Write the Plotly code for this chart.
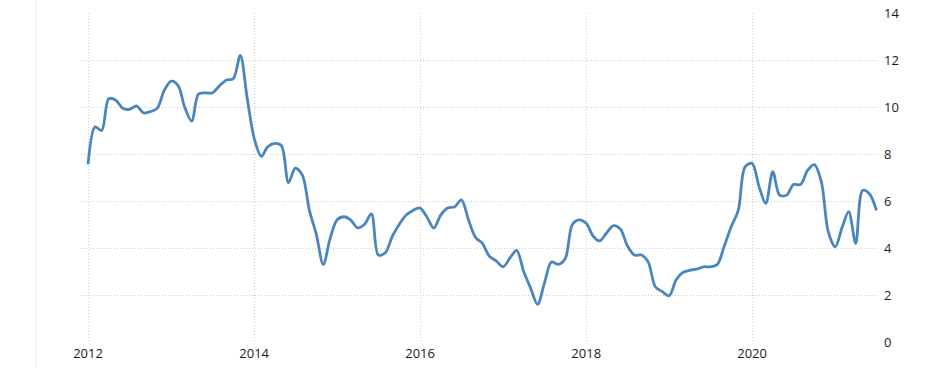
import plotly.graph_objects as go
import pandas as pd

dates = pd.date_range("2012-01-01", periods=115, freq="MS")
values = [
    7.56, 9.15, 9.0, 10.35, 10.3, 9.95, 9.9, 10.05, 9.75, 9.8, 9.95, 10.7,
    11.1, 10.9, 10.0, 9.4, 10.55, 10.6, 10.6, 10.9, 11.15, 11.2, 12.2, 10.4,
    8.67, 7.9, 8.3, 8.45, 8.35, 6.78, 7.4, 7.1, 5.6, 4.6, 3.3, 4.4,
    5.2, 5.33, 5.2, 4.86, 5.0, 5.45, 3.7, 3.8, 4.5, 5.0, 5.4, 5.6,
    5.7, 5.3, 4.85, 5.4, 5.7, 5.75, 6.05, 5.2, 4.45, 4.2, 3.65, 3.45,
    3.2, 3.6, 3.9, 3.0, 2.3, 1.6, 2.5, 3.4, 3.3, 3.55, 5.0, 5.2,
    5.05, 4.5, 4.3, 4.65, 4.95, 4.8, 4.1, 3.7, 3.7, 3.4, 2.35, 2.15,
    1.97, 2.65, 2.95, 3.05, 3.1, 3.2, 3.2, 3.3, 4.1, 4.9, 5.6, 7.45,
    7.6, 6.6, 5.9, 7.25, 6.25, 6.25, 6.7, 6.7, 7.3, 7.55, 6.8, 4.7,
    4.05, 4.9, 5.55, 4.2, 6.45, 6.3, 5.6,
]
x_tick_vals = ["2012-01-01", "2014-01-01", "2016-01-01", "2018-01-01", "2020-01-01"]
x_tick_text = ["2012", "2014", "2016", "2018", "2020"]
y_tick_vals = [0, 2, 4, 6, 8, 10, 12, 14]

fig = go.Figure()
fig.add_trace(go.Scatter(
    x=dates, y=values, mode="lines",
    line=dict(color="#4a86bd", width=2.8, shape="spline", smoothing=0.9),
    hoverinfo="skip", showlegend=False,
))

grid = dict(showgrid=True, gridcolor="#cccccc", griddash="1px,2px", gridwidth=1,
            zeroline=False, showline=False, ticks="", automargin=False)

fig.update_layout(
    width=946, height=368,
    margin=dict(l=81, r=68, t=13, b=26),
    paper_bgcolor="white", plot_bgcolor="white",
    font=dict(family="Open Sans, sans-serif", size=13, color="#1a1a1a"),
    xaxis=dict(
        range=["2011-12-01", "2021-07-08"],
        tickvals=x_tick_vals, ticktext=x_tick_text,
        ticklabelstandoff=2, **grid,
    ),
    yaxis=dict(
        range=[0, 14], side="right",
        tickvals=y_tick_vals,
        ticklabelstandoff=5, **grid,
    ),
    shapes=[dict(type="line", xref="paper", yref="paper",
                 x0=-45/797, x1=-45/797, y0=-26/329, y1=1 + 13/329,
                 line=dict(color="#ececec", width=1))],
)

fig.write_html("out.html")
